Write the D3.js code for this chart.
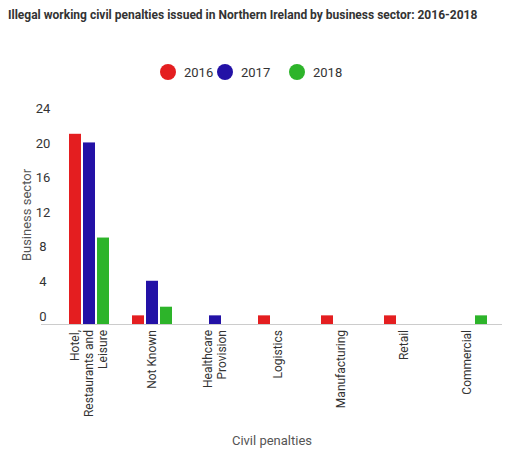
<!DOCTYPE html><html><head><meta charset="utf-8">
<script src="https://cdn.jsdelivr.net/npm/d3@7"></script>
<style>body{margin:0;background:#fff;font-family:Roboto,sans-serif}</style></head><body>
<svg id="c" width="524" height="461"></svg>
<script>
const categories=[["Hotel,","Restaurants and","Leisure"],["Not Known"],["Healthcare","Provision"],["Logistics"],["Manufacturing"],["Retail"],["Commercial"]];
const series=["2016","2017","2018"];
const v2016=[22,1,0,1,1,1,0];
const v2017=[21,5,1,0,0,0,0];
const v2018=[10,2,0,0,0,0,1];
const yTicks=[0,4,8,12,16,20,24];
const colors=["#e41e20","#2311a6","#2db42a"];
const vals=[v2016,v2017,v2018];
const svg=d3.select("#c");
svg.append("text").attr("x",8).attr("y",19).attr("font-size",12).attr("font-weight","bold").attr("fill","#333")
 .text("Illegal working civil penalties issued in Northern Ireland by business sector: 2016-2018");
const lx=[168,225,297];
series.forEach((s,i)=>{svg.append("circle").attr("cx",lx[i]).attr("cy",72).attr("r",8).attr("fill",colors[i]);
 svg.append("text").attr("x",lx[i]+16).attr("y",77).attr("font-size",13).attr("fill","#333").text(s);});
const x=d3.scaleBand().domain(d3.range(categories.length)).range([57.5,498.5]);
const y=d3.scaleLinear().domain([0,24]).range([324,116.5]);
svg.append("line").attr("x1",41).attr("x2",502).attr("y1",324.5).attr("y2",324.5).attr("stroke","#ccc");
const yg=svg.append("g").attr("transform","translate(50,0)").call(d3.axisLeft(y).tickValues(yTicks).tickSize(0).tickPadding(0));
yg.select(".domain").remove();
yg.selectAll("text").attr("font-size",13).attr("fill","#333").attr("font-family","Roboto").attr("dy","-0.3em").attr("text-anchor","middle").attr("x",-7);
vals.forEach((arr,si)=>{
 svg.selectAll(".b"+si).data(arr).enter().append("rect")
  .attr("x",(d,i)=>x(i)+x.bandwidth()/2-20+si*14).attr("width",12)
  .attr("y",d=>y(d)).attr("height",d=>y(0)-y(d)).attr("fill",colors[si]);
});
categories.forEach((lines,i)=>{
 const cx=x(i)+x.bandwidth()/2, n=lines.length;
 lines.forEach((l,j)=>{
  const tx=cx+(j-(n-1)/2)*14+4;
  svg.append("text").attr("transform",`translate(${tx},330) rotate(-90)`).attr("text-anchor","end")
   .attr("font-size",12).attr("fill","#333").text(l);
 });
});
svg.append("text").attr("x",272).attr("y",445).attr("text-anchor","middle").attr("font-size",13).attr("fill","#555").text("Civil penalties");
svg.append("text").attr("transform","translate(31,215) rotate(-90)").attr("text-anchor","middle").attr("font-size",13).attr("fill","#555").text("Business sector");
</script></body></html>
